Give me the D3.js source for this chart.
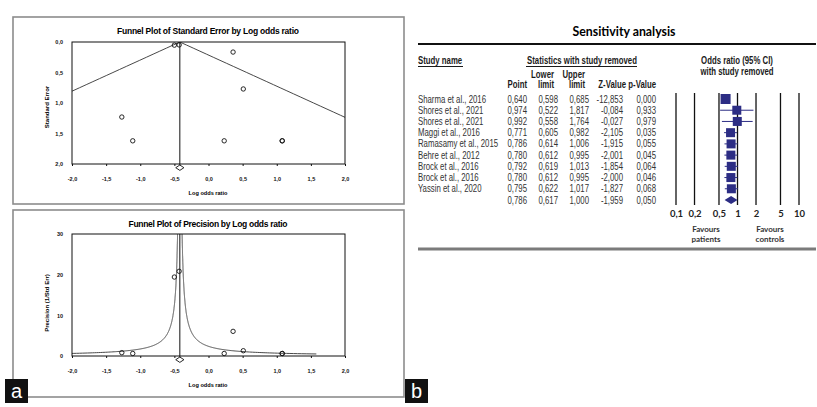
<!DOCTYPE html>
<html>
<head>
<meta charset="utf-8">
<script src="https://cdn.jsdelivr.net/npm/d3@7"></script>
<style>
body { margin: 0; background: #fff; }
svg { display: block; }
</style>
</head>
<body>
<svg id="chart"></svg>
<script>
// funnel plot studies (log odds ratio, standard error)
let logOdds = [-0.50, -0.43, -1.27, -1.11, 0.36, 0.51, 0.23, 1.08, 1.08]
let stdErr = [0.0515, 0.048, 1.23, 1.62, 0.165, 0.77, 1.62, 1.62, 1.62]
let pooled = -0.42
let pooledCI = [-0.48, -0.36]
let lorTicks = [-2, -1.5, -1, -0.5, 0, 0.5, 1, 1.5, 2]
let seTicks = [0, 0.5, 1, 1.5, 2]
let precTicks = [0, 10, 20, 30]

// sensitivity analysis table
let studies = ['Sharma et al., 2016', 'Shores et al., 2021', 'Shores et al., 2021', 'Maggi et al., 2016',
  'Ramasamy et al., 2015', 'Behre et al., 2012', 'Brock et al., 2016', 'Brock et al., 2016', 'Yassin et al., 2020', '']
let pointEst = [0.640, 0.974, 0.992, 0.771, 0.786, 0.780, 0.792, 0.780, 0.795, 0.786]
let lowerLim = [0.598, 0.522, 0.558, 0.605, 0.614, 0.612, 0.619, 0.612, 0.622, 0.617]
let upperLim = [0.685, 1.817, 1.764, 0.982, 1.006, 0.995, 1.013, 0.995, 1.017, 1.000]
let zValue = [-12.853, -0.084, -0.027, -2.105, -1.915, -2.001, -1.854, -2.000, -1.827, -1.959]
let pValue = [0.000, 0.933, 0.979, 0.035, 0.055, 0.045, 0.064, 0.046, 0.068, 0.050]
let boxSize = [10, 9, 9, 9, 9, 9, 9, 9, 9]
let orTicks = [0.1, 0.2, 0.5, 1, 2, 5, 10]

let width = 817
let height = 407
let navy = '#2c2d84'

let loc = d3.formatLocale({decimal: ',', thousands: '.', grouping: [3], currency: ['', ''], minus: '-'})
let f1 = loc.format('.1f')
let f3 = loc.format('.3f')
let fg = loc.format('~g')

let svg = d3.select('#chart').attr('width', width).attr('height', height)

let sansB = "'Liberation Sans', Arial, sans-serif"

let drawFunnel = (o) => {
    // outer box
    svg.append('rect')
        .attr('x', 13).attr('y', o.boxTop)
        .attr('width', 391).attr('height', o.boxH)
        .attr('fill', 'none').attr('stroke', '#8c8c8c').attr('stroke-width', 1.6)

    let xScale = d3.scaleLinear().domain([-2, 2]).range([72, 345])
    let yScale = d3.scaleLinear().domain(o.yDomain).range(o.yRange)
    let top = Math.min(...o.yRange), bottom = Math.max(...o.yRange)

    svg.append('text')
        .attr('x', 208).attr('y', o.titleY)
        .attr('text-anchor', 'middle')
        .attr('font-family', sansB).attr('font-weight', 'bold').attr('font-size', 8.5)
        .attr('textLength', o.titleW).attr('lengthAdjust', 'spacing')
        .text(o.title)

    let clipId = 'clip' + o.boxTop
    svg.append('clipPath').attr('id', clipId)
        .append('rect').attr('x', 72).attr('y', top).attr('width', 273).attr('height', bottom - top)

    // funnel contours
    let line = d3.line().x(d => xScale(d[0])).y(d => yScale(d[1]))
    let g = svg.append('g').attr('clip-path', 'url(#' + clipId + ')')
    g.append('path').datum(o.left).attr('d', line)
        .attr('fill', 'none').attr('stroke', '#333').attr('stroke-width', 0.9)
    g.append('path').datum(o.right).attr('d', line)
        .attr('fill', 'none').attr('stroke', '#333').attr('stroke-width', 0.9)

    svg.append('rect')
        .attr('x', 72).attr('y', top).attr('width', 273).attr('height', bottom - top)
        .attr('fill', 'none').attr('stroke', '#111').attr('stroke-width', 1)

    svg.append('line')
        .attr('x1', xScale(pooled)).attr('x2', xScale(pooled))
        .attr('y1', top).attr('y2', bottom + 3)
        .attr('stroke', '#111').attr('stroke-width', 1)

    // x axis
    let xAxis = d3.axisBottom(xScale).tickValues(lorTicks).tickFormat(f1).tickSize(2).tickPadding(11)
    let xg = svg.append('g').attr('transform', 'translate(0,' + bottom + ')').call(xAxis)
    xg.select('.domain').remove()
    xg.selectAll('line').attr('stroke', '#111')
    xg.selectAll('text').attr('font-family', sansB).attr('font-weight', 'bold').attr('font-size', 5.5).attr('fill', '#111')

    let yAxis = d3.axisLeft(yScale).tickValues(o.yTicks).tickFormat(o.yFmt).tickSize(0).tickPadding(9)
    let yg = svg.append('g').attr('transform', 'translate(72,0)').call(yAxis)
    yg.select('.domain').remove()
    yg.selectAll('text').attr('font-family', sansB).attr('font-weight', 'bold').attr('font-size', 5.5).attr('fill', '#111')

    svg.append('text')
        .attr('x', 208).attr('y', o.xLabelY)
        .attr('text-anchor', 'middle')
        .attr('font-family', sansB).attr('font-weight', 'bold').attr('font-size', 5.6)
        .text('Log odds ratio')

    svg.append('text')
        .attr('transform', 'translate(49,' + o.yLabelY + ') rotate(-90)')
        .attr('text-anchor', 'middle')
        .attr('font-family', sansB).attr('font-weight', 'bold').attr('font-size', 6)
        .text(o.yLabel)

    // pooled diamond
    let dy = bottom + 1
    svg.append('path')
        .attr('d', 'M' + xScale(pooledCI[0]) + ',' + (dy + 2.7) + 'L' + xScale(pooled) + ',' + dy +
            'L' + xScale(pooledCI[1]) + ',' + (dy + 2.7) + 'L' + xScale(pooled) + ',' + (dy + 5.4) + 'Z')
        .attr('fill', '#fff').attr('stroke', '#111').attr('stroke-width', 0.9)

    // studies
    svg.selectAll(null)
        .data(logOdds)
        .enter()
        .append('circle')
        .attr('cx', (d) => xScale(d))
        .attr('cy', (d, i) => yScale(o.yVal(stdErr[i])))
        .attr('r', 2.2)
        .attr('fill', 'none').attr('stroke', '#111').attr('stroke-width', 0.9)
}

// top: standard error
let seSteps = d3.range(0, 2.001, 0.05)
drawFunnel({
    boxTop: 17, boxH: 187,
    title: 'Funnel Plot of Standard Error by Log odds ratio', titleY: 34, titleW: 182,
    yDomain: [0, 2], yRange: [42, 164], yTicks: seTicks, yFmt: f1,
    yLabel: 'Standard Error', yLabelY: 107, xLabelY: 195,
    left: seSteps.map(s => [pooled - 1.96 * s, s]),
    right: seSteps.map(s => [pooled + 1.96 * s, s]),
    yVal: (se) => se
})

// bottom: precision (contour as drawn in the source is ~1 se wide)
let pSteps = d3.range(0.5, 60, 0.02)
drawFunnel({
    boxTop: 210, boxH: 187,
    title: 'Funnel Plot of Precision by Log odds ratio', titleY: 227, titleW: 159,
    yDomain: [0, 30], yRange: [356, 234], yTicks: precTicks, yFmt: d3.format('d'),
    yLabel: 'Precision (1/Std Err)', yLabelY: 303, xLabelY: 387,
    left: pSteps.map(p => [pooled - 1 / p, p]),
    right: pSteps.map(p => [pooled + 1 / p, p]),
    yVal: (se) => 1 / se
})

// ---------- panel b ----------
let tbl = svg.append('g')
let sq = 0.78   // source table uses a condensed face

let txt = (str, x, y, anchor, bold, col) => tbl.append('text')
    .attr('transform', 'translate(' + x + ',' + y + ') scale(' + sq + ',1)')
    .attr('text-anchor', anchor)
    .attr('font-family', sansB).attr('font-weight', bold ? 'bold' : 'normal').attr('font-size', 10)
    .attr('fill', col)
    .text(str)

tbl.append('text')
    .attr('x', 624).attr('y', 36)
    .attr('text-anchor', 'middle')
    .attr('font-family', 'Lato, sans-serif').attr('font-weight', 'bold').attr('font-size', 13)
    .attr('textLength', 103).attr('lengthAdjust', 'spacingAndGlyphs')
    .text('Sensitivity analysis')

tbl.append('line').attr('x1', 418).attr('x2', 816).attr('y1', 44).attr('y2', 44)
    .attr('stroke', '#111').attr('stroke-width', 2)
tbl.append('line').attr('x1', 418).attr('x2', 816).attr('y1', 249).attr('y2', 249)
    .attr('stroke', '#7b7b7b').attr('stroke-width', 3)

let hc = '#1a1a1a'
txt('Study name', 418, 64, 'start', true, hc)
tbl.append('line').attr('x1', 418).attr('x2', 463).attr('y1', 66.5).attr('y2', 66.5).attr('stroke', hc)
txt('Statistics with study removed', 582, 64, 'middle', true, hc)
tbl.append('line').attr('x1', 526).attr('x2', 637).attr('y1', 66.5).attr('y2', 66.5).attr('stroke', hc)
txt('Odds ratio (95% CI)', 737, 64, 'middle', true, hc)
txt('with study removed', 737, 74.5, 'middle', true, hc)
txt('Lower', 554, 78, 'end', true, hc)
txt('Upper', 585, 78, 'end', true, hc)
txt('Point', 527, 87.5, 'end', true, hc)
txt('limit', 554, 87.5, 'end', true, hc)
txt('limit', 585, 87.5, 'end', true, hc)
txt('Z-Value', 626, 87.5, 'end', true, hc)
txt('p-Value', 656, 87.5, 'end', true, hc)

let rowY = d3.scalePoint().domain(d3.range(studies.length)).range([99, 200])

let cols = [
    {vals: studies, x: 418, anchor: 'start', fmt: (d) => d},
    {vals: pointEst, x: 527, anchor: 'end', fmt: f3},
    {vals: lowerLim, x: 558, anchor: 'end', fmt: f3},
    {vals: upperLim, x: 589, anchor: 'end', fmt: f3},
    {vals: zValue, x: 623, anchor: 'end', fmt: f3},
    {vals: pValue, x: 656, anchor: 'end', fmt: f3}
]
cols.forEach((c) => {
    c.vals.forEach((v, i) => {
        txt(c.fmt(v), c.x, rowY(i) + 3.5, c.anchor, false, '#333')
    })
})

// forest plot
let orScale = d3.scaleLog().domain([0.1, 10]).range([676, 799])

tbl.selectAll(null)
    .data(orTicks)
    .enter()
    .append('line')
    .attr('x1', (d) => orScale(d)).attr('x2', (d) => orScale(d))
    .attr('y1', 93).attr('y2', 205)
    .attr('stroke', '#111').attr('stroke-width', 1.3)

let orAxis = d3.axisBottom(orScale).tickValues(orTicks).tickFormat(fg).tickSize(0).tickPadding(5)
let og = tbl.append('g').attr('transform', 'translate(0,205)').call(orAxis)
og.select('.domain').remove()
og.selectAll('text').attr('font-family', 'Lato, sans-serif').attr('font-weight', 'bold').attr('font-size', 9.5).attr('fill', '#222')

let studyIdx = d3.range(studies.length - 1)
tbl.selectAll(null)
    .data(studyIdx)
    .enter()
    .append('line')
    .attr('x1', (i) => orScale(lowerLim[i])).attr('x2', (i) => orScale(upperLim[i]))
    .attr('y1', (i) => rowY(i)).attr('y2', (i) => rowY(i))
    .attr('stroke', navy).attr('stroke-width', 1)

tbl.selectAll(null)
    .data(studyIdx)
    .enter()
    .append('rect')
    .attr('x', (i) => orScale(pointEst[i]) - boxSize[i] / 2)
    .attr('y', (i) => rowY(i) - boxSize[i] / 2)
    .attr('width', (i) => boxSize[i]).attr('height', (i) => boxSize[i])
    .attr('fill', navy)

let last = studies.length - 1
let sy = rowY(last)
tbl.append('path')
    .attr('d', 'M' + orScale(lowerLim[last]) + ',' + sy + 'L' + orScale(pointEst[last]) + ',' + (sy - 4) +
        'L' + orScale(upperLim[last]) + ',' + sy + 'L' + orScale(pointEst[last]) + ',' + (sy + 4) + 'Z')
    .attr('fill', navy)

let fav = (t, x, y) => tbl.append('text')
    .attr('x', x).attr('y', y).attr('text-anchor', 'middle')
    .attr('font-family', 'Lato, sans-serif').attr('font-weight', 'bold').attr('font-size', 8)
    .attr('fill', '#333')
    .text(t)
fav('Favours', 706, 232)
fav('patients', 706, 242)
fav('Favours', 770, 232)
fav('controls', 770, 242)

// panel letters
let letter = (t, x) => {
    svg.append('rect').attr('x', x).attr('y', 379).attr('width', 23).attr('height', 24).attr('fill', '#111')
    svg.append('text').attr('x', x + 11.5).attr('y', 397.5).attr('text-anchor', 'middle')
        .attr('font-family', sansB).attr('font-size', 20).attr('fill', '#fff')
        .text(t)
}
letter('a', 5)
letter('b', 405)
</script>
</body>
</html>
